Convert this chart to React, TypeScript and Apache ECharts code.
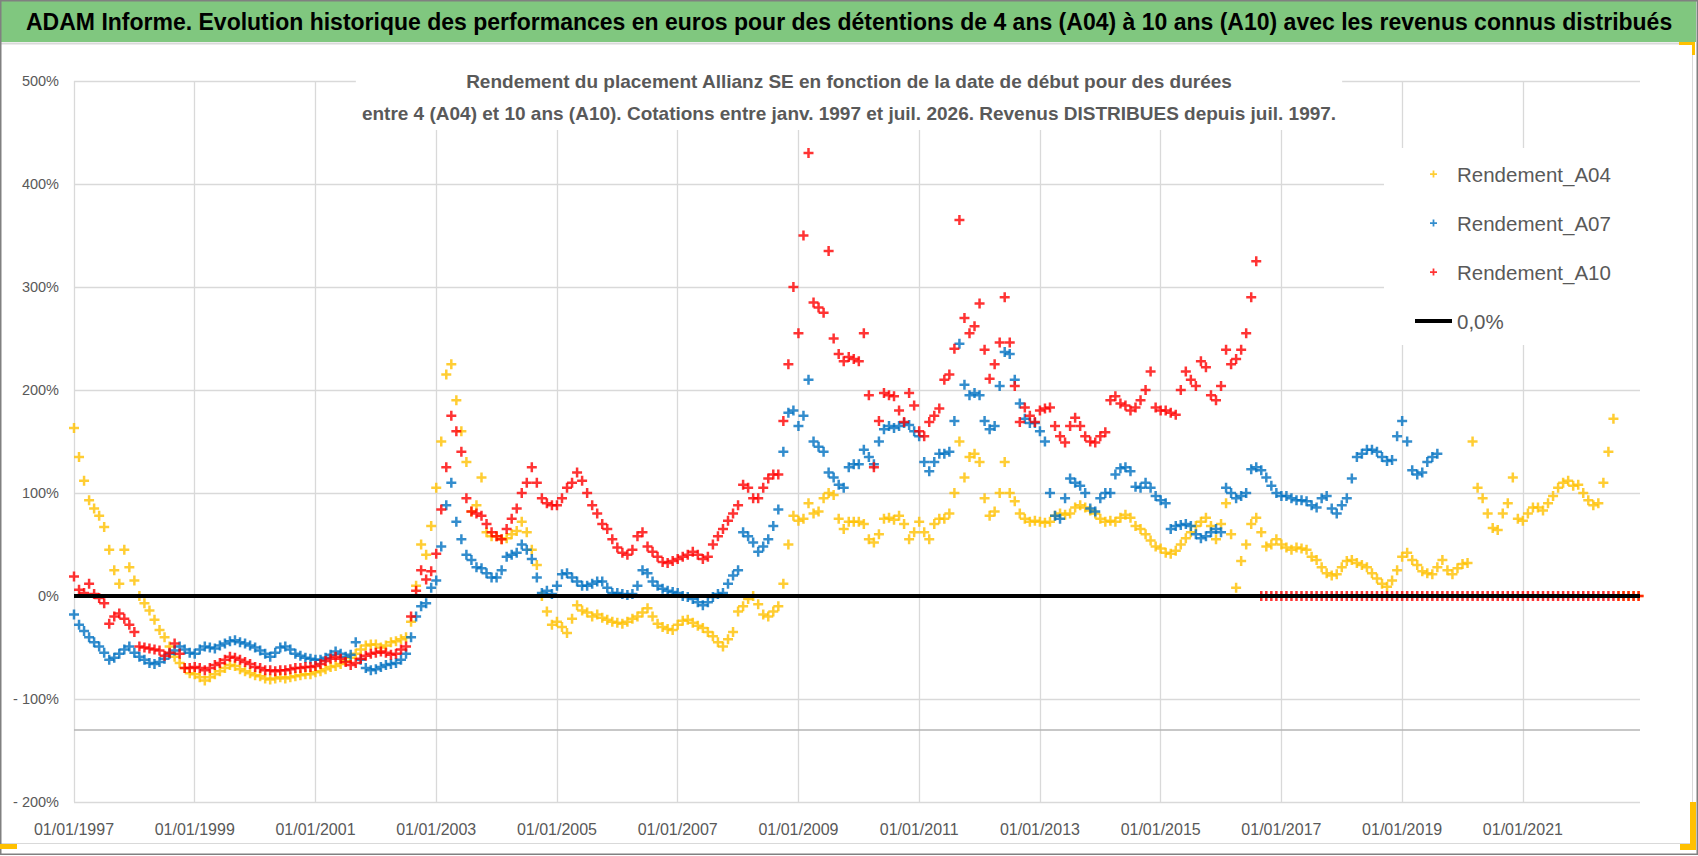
import { useEffect, useRef } from "react";
import * as echarts from "echarts";

// one value per month, starting 01/1997 (start date of the holding period)
const START_YEAR = 1997;
const AXIS_MAX = 2022.94;

const MAIN_TITLE =
  "ADAM Informe. Evolution historique des performances en euros pour des détentions de 4 ans (A04) à 10 ans (A10) avec les revenus connus distribués";
const SUB_TITLE =
  "Rendement du placement Allianz SE en fonction de la date de début pour des durées\nentre 4 (A04) et 10 ans (A10). Cotations entre janv. 1997 et juil. 2026. Revenus DISTRIBUES depuis juil. 1997.";

const SERIES_NAMES = ["Rendement_A04", "Rendement_A07", "Rendement_A10", "0,0%"];

const A04 = [
  [163, 135, 112, 93, 85, 78, 67, 45, 25, 12, 45, 28],
  [15, 0, -7, -14, -23, -33, -40, -49, -59, -65, -70, -75],
  [-76, -79, -82, -79, -76, -73, -70, -67, -68, -71, -73, -75],
  [-77, -78, -80, -81, -80, -79, -80, -79, -78, -77, -76, -76],
  [-74, -73, -71, -69, -68, -66, -63, -60, -56, -52, -48, -47],
  [-47, -50, -48, -45, -44, -42, -40, -25, 10, 50, 40, 68],
  [105, 150, 215, 225, 190, 160, 130, 82, 88, 115, 62, 58],
  [58, 55, 56, 60, 63, 72, 62, 45, 30, 0, -15, -28],
  [-25, -30, -36, -22, -9, -14, -16, -20, -18, -21, -23, -25],
  [-26, -27, -25, -22, -20, -16, -12, -20, -27, -30, -32, -33],
  [-28, -24, -23, -26, -29, -31, -35, -39, -45, -49, -42, -35],
  [-15, -10, -3, 0, -8, -18, -20, -15, -10, 12, 50, 78],
  [73, 75, 90, 80, 82, 95, 100, 98, 75, 65, 72, 72],
  [72, 70, 55, 52, 60, 75, 76, 74, 78, 70, 55, 62],
  [72, 62, 55, 70, 75, 75, 80, 100, 150, 115, 135, 138],
  [130, 95, 78, 82, 100, 130, 100, 92, 80, 75, 72, 73],
  [72, 71, 72, 78, 80, 79, 80, 86, 88, 86, 83, 80],
  [75, 72, 73, 72, 76, 79, 76, 68, 65, 60, 54, 48],
  [46, 42, 41, 44, 50, 56, 62, 68, 72, 76, 68, 55],
  [70, 90, 60, 8, 34, 50, 70, 76, 62, 48, 50, 55],
  [50, 47, 45, 47, 46, 45, 38, 35, 28, 22, 20, 21],
  [28, 34, 35, 32, 30, 28, 22, 17, 12, 9, 15, 25],
  [38, 42, 35, 30, 24, 22, 21, 28, 35, 25, 21, 27],
  [31, 32, 150, 105, 95, 80, 66, 64, 80, 90, 115, 75],
  [73, 80, 86, 86, 83, 90, 97, 105, 110, 112, 107, 108],
  [100, 93, 88, 90, 110, 140, 172, 0, 0, 0, 0, 0],
];

const A07 = [
  [-18, -28, -34, -40, -45, -49, -55, -62, -60, -56, -52, -49],
  [-55, -59, -62, -65, -66, -64, -61, -56, -53, -49, -52, -55],
  [-56, -52, -49, -50, -51, -48, -46, -44, -43, -45, -46, -48],
  [-50, -53, -56, -59, -55, -50, -49, -52, -56, -58, -60, -61],
  [-62, -62, -60, -57, -54, -56, -59, -57, -45, -62, -70, -72],
  [-71, -69, -67, -66, -65, -62, -56, -40, -20, -10, -7, 8],
  [15, 48, 88, 110, 72, 55, 40, 35, 28, 27, 22, 18],
  [18, 25, 38, 40, 42, 50, 45, 36, 18, 3, 5, 2],
  [10, 21, 22, 18, 14, 10, 10, 12, 14, 14, 8, 3],
  [3, 2, 1, 2, 10, 25, 22, 14, 10, 7, 5, 4],
  [3, 0, -1, -3, -6, -9, -6, -1, 2, 3, 12, 20],
  [25, 62, 58, 52, 43, 48, 55, 68, 84, 140, 178, 180],
  [165, 175, 210, 150, 145, 140, 120, 115, 108, 105, 125, 128],
  [128, 142, 135, 128, 150, 162, 165, 163, 165, 168, 166, 160],
  [155, 130, 121, 130, 138, 138, 140, 170, 245, 205, 195, 197],
  [195, 170, 162, 165, 204, 237, 235, 210, 187, 172, 168, 168],
  [160, 150, 100, 78, 75, 95, 114, 110, 107, 100, 85, 82],
  [95, 100, 100, 118, 124, 125, 121, 106, 105, 110, 105, 97],
  [93, 90, 65, 68, 69, 70, 68, 60, 56, 58, 62, 65],
  [62, 105, 100, 95, 97, 100, 123, 125, 122, 115, 107, 100],
  [97, 97, 95, 93, 93, 92, 88, 86, 95, 97, 85, 80],
  [88, 95, 114, 135, 138, 142, 142, 140, 135, 131, 132, 155],
  [170, 150, 122, 118, 120, 130, 135, 138],
];

const A10 = [
  [19, 6, 3, 12, 2, -2, -7, -27, -20, -17, -22, -28],
  [-35, -49, -50, -51, -52, -53, -58, -55, -46, -56, -70, -70],
  [-69, -70, -72, -70, -67, -65, -62, -59, -60, -62, -64, -66],
  [-69, -70, -72, -72, -73, -72, -72, -71, -70, -70, -69, -69],
  [-68, -66, -63, -61, -59, -61, -64, -67, -65, -61, -58, -56],
  [-55, -54, -55, -57, -56, -52, -49, -20, 5, 25, 16, 24],
  [41, 84, 125, 175, 160, 140, 95, 82, 80, 78, 70, 62],
  [58, 55, 65, 75, 85, 100, 110, 125, 110, 95, 90, 88],
  [88, 95, 105, 110, 120, 112, 100, 88, 80, 70, 65, 55],
  [47, 42, 40, 45, 58, 62, 48, 43, 38, 33, 32, 34],
  [36, 38, 40, 43, 40, 36, 38, 50, 58, 65, 73, 80],
  [88, 108, 105, 95, 95, 105, 114, 118, 118, 170, 225, 300],
  [255, 350, 430, 285, 280, 275, 335, 250, 235, 228, 232, 230],
  [228, 255, 195, 125, 170, 197, 195, 194, 180, 169, 197, 185],
  [160, 155, 169, 175, 182, 210, 215, 240, 365, 270, 255, 262],
  [284, 239, 211, 225, 246, 290, 246, 204, 169, 183, 175, 169],
  [180, 182, 183, 165, 155, 149, 165, 173, 165, 155, 150, 149],
  [155, 159, 190, 194, 187, 185, 180, 183, 190, 200, 218, 183],
  [180, 180, 178, 176, 200, 218, 210, 204, 228, 222, 195, 190],
  [204, 239, 225, 230, 239, 255, 290, 325, 0, 0, 0, 0],
  [0, 0, 0, 0, 0, 0, 0, 0, 0, 0, 0, 0],
  [0, 0, 0, 0, 0, 0, 0, 0, 0, 0, 0, 0],
  [0, 0, 0, 0, 0, 0, 0, 0, 0, 0, 0, 0],
  [0, 0, 0, 0, 0, 0, 0, 0, 0, 0, 0, 0],
  [0, 0, 0, 0, 0, 0, 0, 0, 0, 0, 0, 0],
  [0, 0, 0, 0, 0, 0, 0, 0, 0, 0, 0, 0],
];

const ZERO_LEVEL = 0;
const AXIS_BREAK_LEVEL = -130;

const FONT = "'Liberation Sans', Arial, sans-serif";
const CROSS = "path://M3,0H5V3H8V5H5V8H3V5H0V3H3Z";
const GREY_TEXT = "#595959";

const monthly = (rows: number[][]) => rows.flat().map((v, i) => [START_YEAR + i / 12, v]);

export default function App() {
  const chartRef = useRef<HTMLDivElement>(null);

  useEffect(() => {
    document.body.style.margin = "0";
    if (!chartRef.current) return;
    const chart = echarts.init(chartRef.current, null, { renderer: "svg" });

    chart.setOption({
      animation: false,
      backgroundColor: "#fff",
      graphic: [
        { type: "rect", z: -1, shape: { x: 0, y: 0, width: 1696, height: 42 }, style: { fill: "#80c77f" } },
        { type: "line", shape: { x1: 0, y1: 43.5, x2: 1692, y2: 43.5 }, style: { stroke: "#d9d9d9", lineWidth: 2 } },
        { type: "line", shape: { x1: 1692.5, y1: 42, x2: 1692.5, y2: 850 }, style: { stroke: "#d9d9d9", lineWidth: 1 } },
        { type: "line", shape: { x1: 0, y1: 843.5, x2: 1692, y2: 843.5 }, style: { stroke: "#d9d9d9", lineWidth: 1 } },
        { type: "rect", shape: { x: 0.75, y: 0.75, width: 1696.5, height: 853.5 }, style: { fill: "none", stroke: "#808080", lineWidth: 1.5 } },
        { type: "rect", shape: { x: 0, y: 844, width: 17, height: 5 }, style: { fill: "#ffc000" } },
        { type: "rect", shape: { x: 1679, y: 42, width: 16, height: 3 }, style: { fill: "#ffc000" } },
        { type: "rect", shape: { x: 1692, y: 42, width: 3, height: 13 }, style: { fill: "#ffc000" } },
        { type: "rect", shape: { x: 1690, y: 802, width: 6, height: 48 }, style: { fill: "#ffc000" } },
        { type: "rect", shape: { x: 1680, y: 844, width: 16, height: 6 }, style: { fill: "#ffc000" } },
      ],
      title: [
        {
          text: MAIN_TITLE,
          left: 26,
          top: 7,
          padding: 0,
          textStyle: { fontFamily: FONT, fontSize: 23, fontWeight: "bold", color: "#000", lineHeight: 30 },
        },
        {
          text: SUB_TITLE,
          left: "center",
          top: 63,
          padding: [2, 6, 1, 6],
          backgroundColor: "#fff",
          textStyle: { fontFamily: FONT, fontSize: 19, fontWeight: "bold", color: GREY_TEXT, lineHeight: 32 },
        },
      ],
      legend: {
        orient: "vertical",
        left: 1384,
        top: 148,
        padding: [13, 33, 11, 31],
        backgroundColor: "#fff",
        itemWidth: 37,
        itemHeight: 7,
        itemGap: 23,
        selectedMode: false,
        textStyle: { fontFamily: FONT, fontSize: 20.5, color: GREY_TEXT, lineHeight: 26 },
        data: [
          { name: SERIES_NAMES[0], icon: CROSS },
          { name: SERIES_NAMES[1], icon: CROSS },
          { name: SERIES_NAMES[2], icon: CROSS },
          { name: SERIES_NAMES[3], icon: "path://M0,0H37V4H0Z" },
        ],
      },
      grid: { left: 74, right: 58, top: 81, bottom: 54 },
      xAxis: {
        type: "value",
        min: START_YEAR,
        max: AXIS_MAX,
        interval: 2,
        axisLine: { show: false },
        axisTick: { show: false },
        splitLine: { show: true, showMaxLine: false, lineStyle: { color: "#d9d9d9", width: 1.3 } },
        axisLabel: {
          showMaxLabel: false,
          margin: 19,
          fontFamily: FONT,
          fontSize: 16,
          color: GREY_TEXT,
          formatter: (v: number) => (Number.isInteger(v) ? "01/01/" + v : ""),
        },
      },
      yAxis: {
        type: "value",
        min: -200,
        max: 500,
        interval: 100,
        axisLine: { show: false },
        axisTick: { show: false },
        splitLine: { lineStyle: { color: "#d9d9d9", width: 1.3 } },
        axisLabel: {
          margin: 15,
          fontFamily: FONT,
          fontSize: 14.5,
          color: GREY_TEXT,
          formatter: (v: number) => (v < 0 ? "- " + -v + "%" : v + "%"),
        },
      },
      series: [
        {
          name: SERIES_NAMES[0],
          type: "scatter",
          symbol: CROSS,
          symbolSize: 10,
          itemStyle: { color: "#ffc000" },
          data: monthly(A04),
        },
        {
          name: SERIES_NAMES[1],
          type: "scatter",
          symbol: CROSS,
          symbolSize: 10,
          itemStyle: { color: "#0070c0" },
          data: monthly(A07),
        },
        {
          name: SERIES_NAMES[3],
          type: "line",
          symbol: "none",
          showSymbol: false,
          itemStyle: { color: "#000" },
          lineStyle: { color: "#000", width: 4 },
          data: [
            [START_YEAR, ZERO_LEVEL],
            [AXIS_MAX, ZERO_LEVEL],
          ],
          markLine: {
            silent: true,
            symbol: "none",
            label: { show: false },
            lineStyle: { color: "#b4b4b4", width: 1.6, type: "solid" },
            data: [{ yAxis: AXIS_BREAK_LEVEL }],
          },
        },
        {
          name: SERIES_NAMES[2],
          type: "scatter",
          symbol: CROSS,
          symbolSize: 10,
          itemStyle: { color: "#ff0000" },
          data: monthly(A10),
        },
      ],
    });

    return () => chart.dispose();
  }, []);

  return <div ref={chartRef} style={{ width: 1698, height: 856 }} />;
}
